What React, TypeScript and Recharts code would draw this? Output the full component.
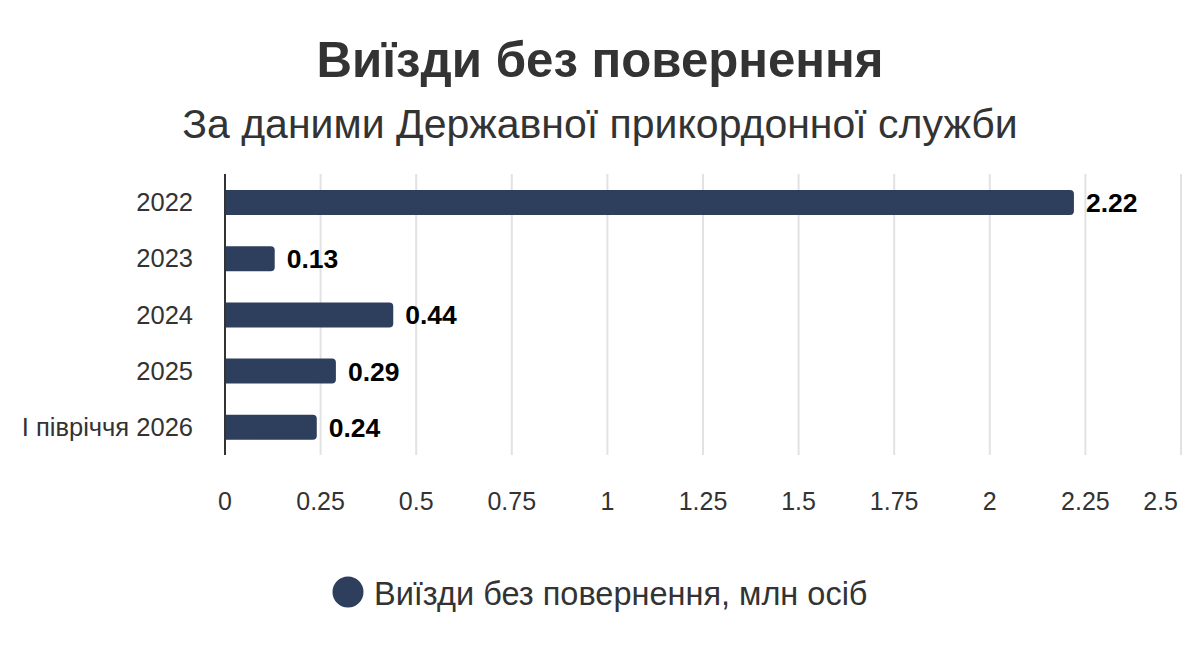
import React from "react";
import { BarChart, Bar, XAxis, YAxis, CartesianGrid, LabelList } from "recharts";

const categories = ["2022", "2023", "2024", "2025", "I півріччя 2026"];
const values = [2.22, 0.13, 0.44, 0.29, 0.24];
const xTicks = [0, 0.25, 0.5, 0.75, 1, 1.25, 1.5, 1.75, 2, 2.25, 2.5];
const seriesName = "Виїзди без повернення, млн осіб";
const title = "Виїзди без повернення";
const subtitle = "За даними Державної прикордонної служби";

const data = categories.map((c, i) => ({ name: c, value: values[i] }));

const FONT = '"Liberation Sans", Arial, Helvetica, sans-serif';
const BAR = "#2e3e5d";

const XTick = (props: any) => {
  const { x, y, payload } = props;
  const isLast = payload.value === xTicks[xTicks.length - 1];
  return (
    <text
      x={isLast ? x - 3 : x}
      y={y}
      dy="0.71em"
      textAnchor={isLast ? "end" : "middle"}
      fill="#333"
      fontSize={25}
      fontFamily={FONT}
    >
      {payload.value}
    </text>
  );
};

export default function App() {
  return (
    <div style={{ position: "absolute", left: 0, top: 0, width: 1199, height: 663, background: "#fff", fontFamily: FONT }}>
      <BarChart
        width={1199}
        height={663}
        data={data}
        layout="vertical"
        margin={{ top: 174, right: 18, bottom: 148, left: 0 }}
        barSize={25}
      >
        <CartesianGrid horizontal={false} stroke="#e2e2e2" strokeWidth={2} />
        <XAxis
          type="number"
          domain={[0, 2.5]}
          ticks={xTicks}
          axisLine={false}
          tickLine={false}
          tickSize={6}
          tickMargin={31}
          height={60}
          tick={<XTick />}
          interval={0}
        />
        <YAxis
          type="category"
          dataKey="name"
          width={225}
          axisLine={{ stroke: "#333", strokeWidth: 2 }}
          tickLine={false}
          tickSize={6}
          tickMargin={26}
          tick={{ fill: "#333", fontSize: 25.5, fontFamily: FONT }}
        />
        <Bar dataKey="value" name={seriesName} fill={BAR} radius={[0, 4, 4, 0]} isAnimationActive={false}>
          <LabelList
            dataKey="value"
            position="right"
            offset={12}
            fill="#000"
            fontSize={26.5}
            fontWeight="bold"
            fontFamily={FONT}
          />
        </Bar>
      </BarChart>
      <svg width={1199} height={663} style={{ position: "absolute", left: 0, top: 0, pointerEvents: "none" }}>
        <text x={600} y={77} textAnchor="middle" fontSize={49.2} fontWeight="bold" fill="#333" fontFamily={FONT}>
          {title}
        </text>
        <text x={600} y={138} textAnchor="middle" fontSize={41} fill="#333" fontFamily={FONT}>
          {subtitle}
        </text>
        <circle cx={348} cy={592} r={15.5} fill={BAR} />
        <text x={374} y={605} fontSize={32.5} fill="#333" fontFamily={FONT}>
          {seriesName}
        </text>
      </svg>
    </div>
  );
}
